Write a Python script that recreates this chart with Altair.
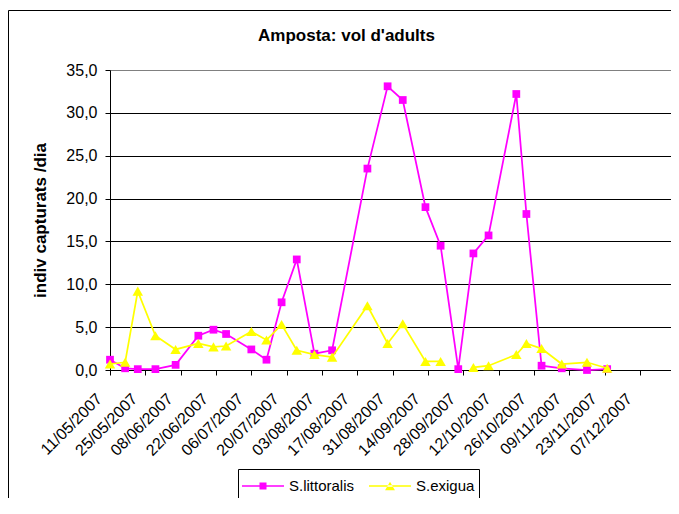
import altair as alt
import pandas as pd

# ---- data ----
dates = ["2007-05-11", "2007-05-17", "2007-05-22", "2007-05-29", "2007-06-06",
         "2007-06-15", "2007-06-21", "2007-06-26", "2007-07-06", "2007-07-12",
         "2007-07-18", "2007-07-24", "2007-07-31", "2007-08-07", "2007-08-21",
         "2007-08-29", "2007-09-04", "2007-09-13", "2007-09-19", "2007-09-26",
         "2007-10-02", "2007-10-08", "2007-10-19", "2007-10-23", "2007-10-29",
         "2007-11-06", "2007-11-16", "2007-11-24"]
littoralis = [1.2, 0.2, 0.1, 0.1, 0.6, 4.0, 4.7, 4.2, 2.4, 1.2,
              7.9, 12.9, 1.9, 2.3, 23.5, 33.1, 31.5, 19.0, 14.5, 0.1,
              13.6, 15.7, 32.2, 18.2, 0.5, 0.2, 0.0, 0.1]
exigua = [0.7, 0.9, 9.2, 4.0, 2.4, 3.1, 2.7, 2.8, 4.5, 3.5,
          5.3, 2.3, 1.8, 1.5, 7.5, 3.1, 5.4, 1.0, 1.0, None,
          0.3, 0.5, 1.8, 3.1, 2.5, 0.7, 0.9, 0.2]
series_names = ["S.littoralis", "S.exigua"]
series_colors = ["#FF00FF", "#FFFF00"]
tick_dates = ["2007-05-11", "2007-05-25", "2007-06-08", "2007-06-22", "2007-07-06",
              "2007-07-20", "2007-08-03", "2007-08-17", "2007-08-31", "2007-09-14",
              "2007-09-28", "2007-10-12", "2007-10-26", "2007-11-09", "2007-11-23",
              "2007-12-07"]
y_ticks = [0, 5, 10, 15, 20, 25, 30, 35]
title_text = "Amposta: vol d'adults"
y_title = "indiv capturats /dia"

FONT = "Liberation Sans"

rows = []
for name, vals in zip(series_names, [littoralis, exigua]):
    seg = 0
    for d, v in zip(dates, vals):
        if v is None:
            seg += 1
            continue
        rows.append({"date": d, "value": v, "series": name, "seg": f"{name}-{seg}"})
df = pd.DataFrame(rows)


def dt(s, hours=0):
    y, m, d = (int(p) for p in s.split("-"))
    return alt.DateTime(year=y, month=m, date=d, hours=hours, utc=True)


x_scale = alt.Scale(type="utc", domain=[dt("2007-05-11"), dt("2007-12-19", 7)])
x_enc = alt.X(
    "date:T", scale=x_scale,
    axis=alt.Axis(
        values=[dt(t) for t in tick_dates],
        labelExpr="utcFormat(datum.value, '%d/%m/%Y')",
        labelAngle=315, labelAlign="right", labelBaseline="middle",
        labelFont=FONT, labelFontSize=16, labelColor="black",
        labelOffset=-11, labelPadding=21,
        labelOverlap=False, labelFlush=False, labelBound=False,
        tickSize=5, tickColor="black", domainColor="black", domainWidth=1,
        grid=False, title=None,
    ),
)
y_enc = alt.Y(
    "value:Q",
    scale=alt.Scale(domain=[0, 35], nice=False, zero=True),
    axis=alt.Axis(
        values=y_ticks,
        labelExpr="replace(format(datum.value, '.1f'), '.', ',')",
        labelFont=FONT, labelFontSize=16, labelColor="black", labelPadding=8,
        labelFlush=False, labelOverlap=False,
        tickSize=5, tickColor="black", domainColor="black",
        grid=True,
        gridColor={"condition": {"test": "datum.value === 35", "value": "#808080"}, "value": "black"},
        gridWidth=1,
        title=y_title, titleFont=FONT, titleFontSize=17, titleFontWeight="bold",
        titleColor="black", titlePadding=16,
    ),
)

layers = []
# outer chart frame
frame = alt.Chart(alt.Data(values=[{"k": 1}])).mark_rect(
    fill="transparent", stroke="black", strokeWidth=1
).encode(x=alt.value(-101.5), x2=alt.value(700), y=alt.value(-59.5), y2=alt.value(700))
layers.append(frame)

shapes = ["square", "triangle-up"]
sizes = [60, 110]
for name, color, shp, sz in zip(series_names, series_colors, shapes, sizes):
    base = alt.Chart(df).transform_filter(alt.datum.series == name)
    layers.append(base.mark_line(color=color, strokeWidth=1.75).encode(x=x_enc, y=y_enc, detail="seg:N"))
    layers.append(base.mark_point(filled=True, opacity=1, color=color, shape=shp, size=sz)
                  .encode(x=x_enc, y=y_enc))

# legend (line with marker symbols)
leg_sq = "M-1,-0.058H2.23V0.058H-1Z M0.345,-0.27H0.885V0.27H0.345Z"
leg_tri = "M-1,-0.058H2.23V0.058H-1Z M0.235,0.33L0.995,0.33L0.615,-0.33Z"
legend = alt.Legend(
    title=None, orient="none", legendX=128, legendY=399, direction="horizontal",
    symbolSize=676, symbolStrokeWidth=0, symbolOpacity=1,
    labelFont=FONT, labelFontSize=15, labelColor="black", labelOffset=21,
    columnPadding=14, padding=4, strokeColor="black", fillColor="white",
)
legend_layer = alt.Chart(df).transform_filter("false").mark_point(
    filled=True, opacity=1
).encode(
    color=alt.Color("series:N", scale=alt.Scale(domain=series_names, range=series_colors), legend=legend),
    shape=alt.Shape("series:N", scale=alt.Scale(domain=series_names, range=[leg_sq, leg_tri]), legend=legend),
)
layers.append(legend_layer)

chart = alt.layer(*layers).properties(
    width=561, height=300,
    title=alt.TitleParams(title_text, font=FONT, fontSize=17, fontWeight="bold", color="black",
                          anchor="middle", frame="group", dx=-44, offset=0, dy=35),
    autosize=alt.AutoSizeParams(type="none"),
    padding={"left": 102, "top": 62, "right": 0, "bottom": 128},
).configure_view(
    fill="#C0C0C0", stroke="#808080", strokeWidth=1
).configure(background="white")

chart.save("out.html", embed_options={"renderer": "svg", "actions": False})
